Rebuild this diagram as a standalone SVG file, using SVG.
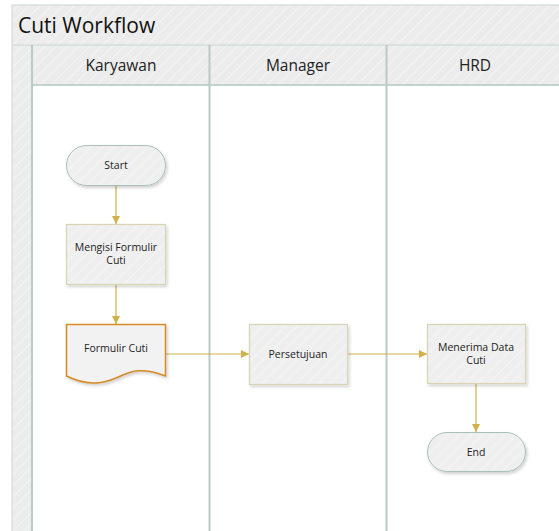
<svg xmlns="http://www.w3.org/2000/svg" width="559" height="531" viewBox="0 0 559 531">
  <defs>
    <pattern id="hatch" width="8" height="8" patternUnits="userSpaceOnUse" patternTransform="rotate(45)">
      <rect width="8" height="8" fill="#ececec"/>
      <line x1="0" y1="0" x2="0" y2="8" stroke="#f3f3f3" stroke-width="2"/>
    </pattern>
    <pattern id="hatchNode" width="8" height="8" patternUnits="userSpaceOnUse" patternTransform="rotate(45)">
      <rect width="8" height="8" fill="#efefef"/>
      <line x1="0" y1="0" x2="0" y2="8" stroke="#f4f4f4" stroke-width="2"/>
    </pattern>
    <filter id="shadow" x="-20%" y="-20%" width="150%" height="150%">
      <feDropShadow dx="1.5" dy="2" stdDeviation="1.5" flood-color="#000" flood-opacity="0.18"/>
    </filter>
    <marker id="arrow" viewBox="0 0 10 10" refX="10" refY="5" markerWidth="8" markerHeight="8" markerUnits="userSpaceOnUse" orient="auto">
      <path d="M0,0 L10,5 L0,10 z" fill="#d1b14a"/>
    </marker>
  </defs>
  <style>
    .frame { fill: url(#hatch); stroke: #c9d6d2; stroke-width: 1; }
    .lane { fill: #ffffff; }
    .divider { stroke: #b7cac5; stroke-width: 2; }
    .title { font-family: "Open Sans", "Noto Sans", sans-serif; font-size: 21px; fill: #111; }
    .head { font-family: "Open Sans", "Noto Sans", sans-serif; font-size: 15.5px; fill: #222; text-anchor: middle; }
    .label { font-family: "Open Sans", "Noto Sans", sans-serif; font-size: 10.5px; fill: #222; text-anchor: middle; }
    .terminal { fill: url(#hatchNode); stroke: #a8c0b9; stroke-width: 1; filter: url(#shadow); }
    .process { fill: url(#hatchNode); stroke: #d8d3b4; stroke-width: 1.2; filter: url(#shadow); }
    .doc { fill: #f2f2f2; stroke: #d58a28; stroke-width: 1.5; filter: url(#shadow); }
    .conn { fill: none; stroke: #d1b14a; stroke-width: 1.2; marker-end: url(#arrow); }
  </style>

  <rect width="559" height="531" fill="#ffffff"/>

  <!-- pool frame -->
  <g id="pool">
    <rect class="frame" x="12" y="5" width="560" height="540"/>
    <line x1="12" y1="45" x2="559" y2="45" stroke="#c9d6d2" stroke-width="1"/>
    <line x1="32" y1="85" x2="559" y2="85" stroke="#b7cac5" stroke-width="1.5"/>
    <rect class="lane" x="33" y="86" width="530" height="450"/>
    <line class="divider" x1="32" y1="45" x2="32" y2="531"/>
    <line class="divider" x1="209.5" y1="45" x2="209.5" y2="531"/>
    <line class="divider" x1="386.5" y1="45" x2="386.5" y2="531"/>
    <text class="title" x="18" y="33">Cuti Workflow</text>
  </g>

  <!-- lane headers -->
  <g id="lane-karyawan"><text class="head" x="121" y="71">Karyawan</text></g>
  <g id="lane-manager"><text class="head" x="298" y="71">Manager</text></g>
  <g id="lane-hrd"><text class="head" x="475" y="71">HRD</text></g>

  <!-- connectors -->
  <g id="connectors">
    <line class="conn" x1="116" y1="185" x2="116" y2="224"/>
    <line class="conn" x1="116" y1="284" x2="116" y2="324"/>
    <line class="conn" x1="166" y1="354" x2="249" y2="354"/>
    <line class="conn" x1="347" y1="354" x2="427" y2="354"/>
    <line class="conn" x1="476" y1="384" x2="476" y2="432"/>
  </g>

  <!-- nodes -->
  <g id="start">
    <rect class="terminal" x="66.5" y="145.5" width="99" height="40" rx="20"/>
    <text class="label" x="116" y="169">Start</text>
  </g>
  <g id="mengisi-formulir">
    <rect class="process" x="66.5" y="224.5" width="99" height="60"/>
    <text class="label" x="116" y="251">Mengisi Formulir</text>
    <text class="label" x="116" y="264">Cuti</text>
  </g>
  <g id="formulir-cuti">
    <path class="doc" d="M66.5,324.5 H165.5 V376 C140,366 130,372 116,378 C100,385 85,385 66.5,376 Z"/>
    <text class="label" x="116" y="352">Formulir Cuti</text>
  </g>
  <g id="persetujuan">
    <rect class="process" x="249.5" y="324.5" width="98" height="60"/>
    <text class="label" x="298" y="358">Persetujuan</text>
  </g>
  <g id="menerima-data">
    <rect class="process" x="427.5" y="324.5" width="98" height="59"/>
    <text class="label" x="476" y="351">Menerima Data</text>
    <text class="label" x="476" y="364">Cuti</text>
  </g>
  <g id="end">
    <rect class="terminal" x="427.5" y="432.5" width="98" height="39" rx="19.5"/>
    <text class="label" x="476" y="456">End</text>
  </g>
</svg>
